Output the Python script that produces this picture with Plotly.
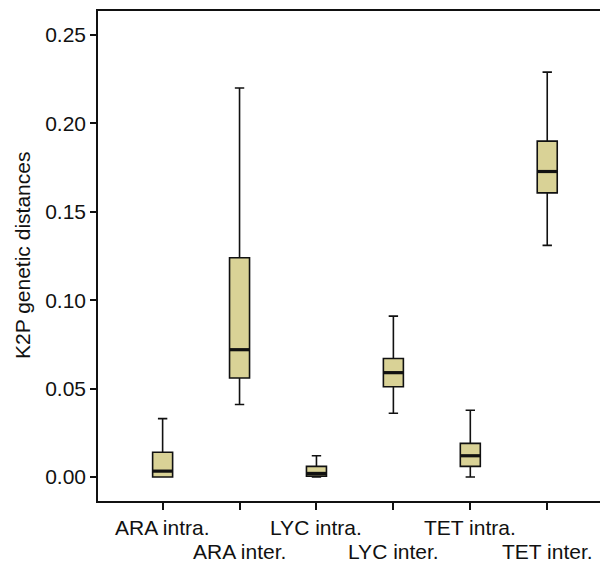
import plotly.graph_objects as go

categories = ["ARA intra.", "ARA inter.", "LYC intra.", "LYC inter.", "TET intra.", "TET inter."]
lower_whisker = [0.0, 0.041, 0.0, 0.036, 0.0, 0.131]
q1 = [0.0, 0.056, 0.0005, 0.051, 0.006, 0.1607]
median = [0.0033, 0.072, 0.002, 0.059, 0.012, 0.1728]
q3 = [0.014, 0.124, 0.006, 0.067, 0.019, 0.190]
upper_whisker = [0.033, 0.220, 0.012, 0.091, 0.0377, 0.229]
y_ticks = [0.00, 0.05, 0.10, 0.15, 0.20, 0.25]
y_tick_labels = ["0.00", "0.05", "0.10", "0.15", "0.20", "0.25"]

FONT = "Liberation Sans, Arial, sans-serif"
FILL = "#d9d296"
BOXW = 0.26

xs = list(range(len(categories)))

fig = go.Figure()
fig.add_trace(go.Box(
    x=xs,
    lowerfence=lower_whisker, q1=q1, median=median, q3=q3, upperfence=upper_whisker,
    fillcolor=FILL,
    line=dict(color="#111111", width=1.6),
    width=BOXW,
    whiskerwidth=0.47,
    boxpoints=False,
    showlegend=False,
    hoverinfo="skip",
))

# thicker median bars
mx, my = [], []
for i, m in zip(xs, median):
    mx += [i - BOXW / 2, i + BOXW / 2, None]
    my += [m, m, None]
fig.add_trace(go.Scatter(x=mx, y=my, mode="lines", line=dict(color="#111111", width=3.2),
                         showlegend=False, hoverinfo="skip"))

# staggered category labels
for i, c in enumerate(categories):
    fig.add_annotation(x=i, y=0, xref="x", yref="paper", text=c, showarrow=False,
                       yanchor="middle", yshift=-26 if i % 2 == 0 else -50,
                       font=dict(family=FONT, size=21, color="#111111"))

fig.add_annotation(x=0, y=0.5, xref="paper", yref="paper", xshift=-76, text="K2P genetic distances",
                   textangle=-90, showarrow=False, xanchor="center", yanchor="middle",
                   font=dict(family=FONT, size=21, color="#111111"))

# page body has an 8px default margin; compensate so the plot lands where the reference has it
fig.update_layout(
    width=600, height=559,
    margin=dict(l=90, r=0, t=3, b=66),
    paper_bgcolor="white", plot_bgcolor="white",
    font=dict(family=FONT, size=21, color="#111111"),
    xaxis=dict(range=[-0.84, 5.79], tickvals=xs, ticktext=[""] * len(xs),
               showline=True, linecolor="#111111", linewidth=1.6, mirror=True,
               ticks="outside", ticklen=7, tickwidth=1.6, tickcolor="#111111",
               showgrid=False, zeroline=False),
    yaxis=dict(range=[-0.0136, 0.2636], tickvals=y_ticks, ticktext=y_tick_labels,
               showline=True, linecolor="#111111", linewidth=1.6,
               ticks="outside", ticklen=6, tickwidth=1.6, tickcolor="#111111",
               showgrid=False, zeroline=False, tickfont=dict(size=21)),
)

fig.write_html("out.html")
